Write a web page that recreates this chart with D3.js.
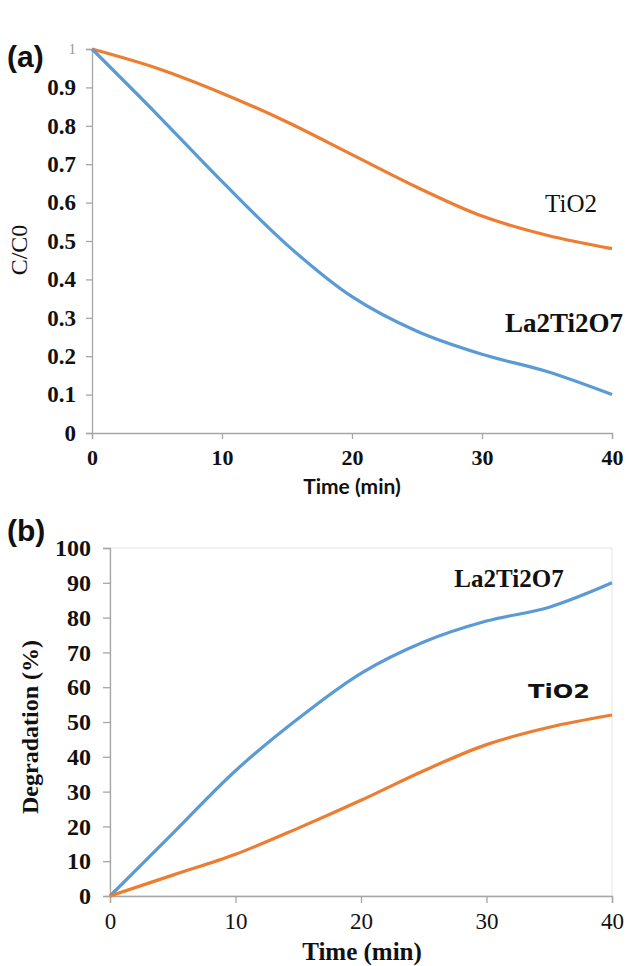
<!DOCTYPE html>
<html>
<head>
<meta charset="utf-8">
<script src="https://cdn.jsdelivr.net/npm/d3@7"></script>
<style>
  body { margin: 0; background: #fff; }
  svg { display: block; }
</style>
</head>
<body>
<div id="chart"></div>
<script>
// sampling times (min)
const times = [0, 5, 10, 15, 20, 25, 30, 35, 40];

// panel (a): C/C0
const ratioLa = [1, 0.83, 0.655, 0.49, 0.355, 0.265, 0.205, 0.16, 0.10];
const ratioTi = [1, 0.95, 0.885, 0.81, 0.725, 0.64, 0.565, 0.515, 0.48];

// panel (b): degradation (%)
const degLa = [0, 18, 36, 51, 64, 73, 79, 83, 90];
const degTi = [0, 6, 12, 19.5, 27.5, 36, 43.5, 48.5, 52];

const ticksA = [0, 0.1, 0.2, 0.3, 0.4, 0.5, 0.6, 0.7, 0.8, 0.9, 1];
const ticksB = [0, 10, 20, 30, 40, 50, 60, 70, 80, 90, 100];
const ticksX = [0, 10, 20, 30, 40];

const blue = "#5b9bd5";
const orange = "#ed7d31";
const axisGray = "#a6a6a6";
const serif = "'Liberation Serif', 'Times New Roman', serif";
const sans = "'Liberation Sans', Arial, sans-serif";

const w = 629, h = 966;
const svg = d3.select("#chart").append("svg").attr("width", w).attr("height", h);

function zip(xs, ys) {
  return xs.map((t, i) => ({ t: t, v: ys[i] }));
}

// ---------- panel (a) ----------
let xA = d3.scaleLinear().domain([0, 40]).range([92, 612]);
let yA = d3.scaleLinear().domain([0, 1]).range([433, 49]);

let gA = svg.append("g");

let yAxisA = gA.append("g")
  .attr("transform", `translate(${xA(0)},0)`)
  .call(d3.axisLeft(yA).tickValues(ticksA).tickSize(6).tickPadding(10)
    .tickFormat(d => d === 1 ? "1" : d === 0 ? "0" : d3.format(".1f")(d)));
yAxisA.selectAll("text")
  .attr("font-family", serif).attr("font-weight", "bold")
  .attr("font-size", 23).attr("fill", "#111");
yAxisA.selectAll("text").filter(d => d === 1)
  .attr("font-weight", "normal").attr("font-size", 15).attr("fill", "#999");

let xAxisA = gA.append("g")
  .attr("transform", `translate(0,${yA(0)})`)
  .call(d3.axisBottom(xA).tickValues(ticksX).tickSize(6).tickPadding(10));
xAxisA.selectAll("text")
  .attr("font-family", serif).attr("font-weight", "bold")
  .attr("font-size", 22).attr("fill", "#111");

gA.selectAll(".domain, .tick line").attr("stroke", axisGray).attr("stroke-width", 1.3);

let lineA = d3.line()
  .x(d => xA(d.t))
  .y(d => yA(d.v))
  .curve(d3.curveCatmullRom.alpha(0.5));

gA.append("path").datum(zip(times, ratioTi))
  .attr("d", lineA).attr("fill", "none")
  .attr("stroke", orange).attr("stroke-width", 3.2);
gA.append("path").datum(zip(times, ratioLa))
  .attr("d", lineA).attr("fill", "none")
  .attr("stroke", blue).attr("stroke-width", 3.2);

gA.append("text").attr("x", 571).attr("y", 212)
  .attr("text-anchor", "middle")
  .attr("font-family", serif).attr("font-size", 25).attr("fill", "#111")
  .text("TiO2");
gA.append("text").attr("x", 564).attr("y", 332)
  .attr("text-anchor", "middle")
  .attr("font-family", serif).attr("font-weight", "bold")
  .attr("font-size", 27).attr("fill", "#111")
  .text("La2Ti2O7");

gA.append("text")
  .attr("transform", "translate(27,250) rotate(-90)")
  .attr("text-anchor", "middle")
  .attr("font-family", serif).attr("font-size", 24).attr("fill", "#111")
  .text("C/C0");

gA.append("text").attr("x", 352).attr("y", 494)
  .attr("text-anchor", "middle")
  .attr("font-family", "Lato, sans-serif").attr("font-weight", "bold")
  .attr("font-size", 21).attr("fill", "#111")
  .text("Time (min)");

svg.append("text").attr("x", 7).attr("y", 67)
  .attr("font-family", sans).attr("font-weight", "bold")
  .attr("font-size", 30).attr("fill", "#111")
  .text("(a)");

// ---------- panel (b) ----------
let xB = d3.scaleLinear().domain([0, 40]).range([110, 612]);
let yB = d3.scaleLinear().domain([0, 100]).range([896, 548]);

let gB = svg.append("g");

// light plot-area frame
gB.append("rect")
  .attr("x", xB(0)).attr("y", yB(100))
  .attr("width", xB(40) - xB(0)).attr("height", yB(0) - yB(100))
  .attr("fill", "none").attr("stroke", "#e3e3e3").attr("stroke-width", 1);

let yAxisB = gB.append("g")
  .attr("transform", `translate(${xB(0)},0)`)
  .call(d3.axisLeft(yB).tickValues(ticksB).tickSize(7).tickPadding(12));
yAxisB.selectAll("text")
  .attr("font-family", serif).attr("font-weight", "bold")
  .attr("font-size", 24).attr("fill", "#111");

let xAxisB = gB.append("g")
  .attr("transform", `translate(0,${yB(0)})`)
  .call(d3.axisBottom(xB).tickValues(ticksX).tickSize(7).tickPadding(10));
xAxisB.selectAll("text")
  .attr("font-family", serif)
  .attr("font-size", 23).attr("fill", "#111");

gB.selectAll(".domain, .tick line").attr("stroke", axisGray).attr("stroke-width", 1.3);

let lineB = d3.line()
  .x(d => xB(d.t))
  .y(d => yB(d.v))
  .curve(d3.curveCatmullRom.alpha(0.5));

gB.append("path").datum(zip(times, degLa))
  .attr("d", lineB).attr("fill", "none")
  .attr("stroke", blue).attr("stroke-width", 3.2);
gB.append("path").datum(zip(times, degTi))
  .attr("d", lineB).attr("fill", "none")
  .attr("stroke", orange).attr("stroke-width", 3.2);

gB.append("text").attr("x", 509).attr("y", 587)
  .attr("text-anchor", "middle")
  .attr("font-family", serif).attr("font-weight", "bold")
  .attr("font-size", 25).attr("fill", "#111")
  .text("La2Ti2O7");
gB.append("text").attr("x", 528).attr("y", 698)
  .attr("font-family", "'DejaVu Sans', sans-serif").attr("font-weight", "bold")
  .attr("font-size", 19).attr("fill", "#111")
  .attr("textLength", 62).attr("lengthAdjust", "spacingAndGlyphs")
  .text("TiO2");

gB.append("text")
  .attr("transform", "translate(38,727) rotate(-90)")
  .attr("text-anchor", "middle")
  .attr("font-family", serif).attr("font-weight", "bold")
  .attr("font-size", 24).attr("fill", "#111")
  .text("Degradation (%)");

gB.append("text").attr("x", 362).attr("y", 960)
  .attr("text-anchor", "middle")
  .attr("font-family", serif).attr("font-weight", "bold")
  .attr("font-size", 25).attr("fill", "#111")
  .text("Time (min)");

svg.append("text").attr("x", 7).attr("y", 541)
  .attr("font-family", sans).attr("font-weight", "bold")
  .attr("font-size", 30).attr("fill", "#111")
  .text("(b)");
</script>
</body>
</html>
